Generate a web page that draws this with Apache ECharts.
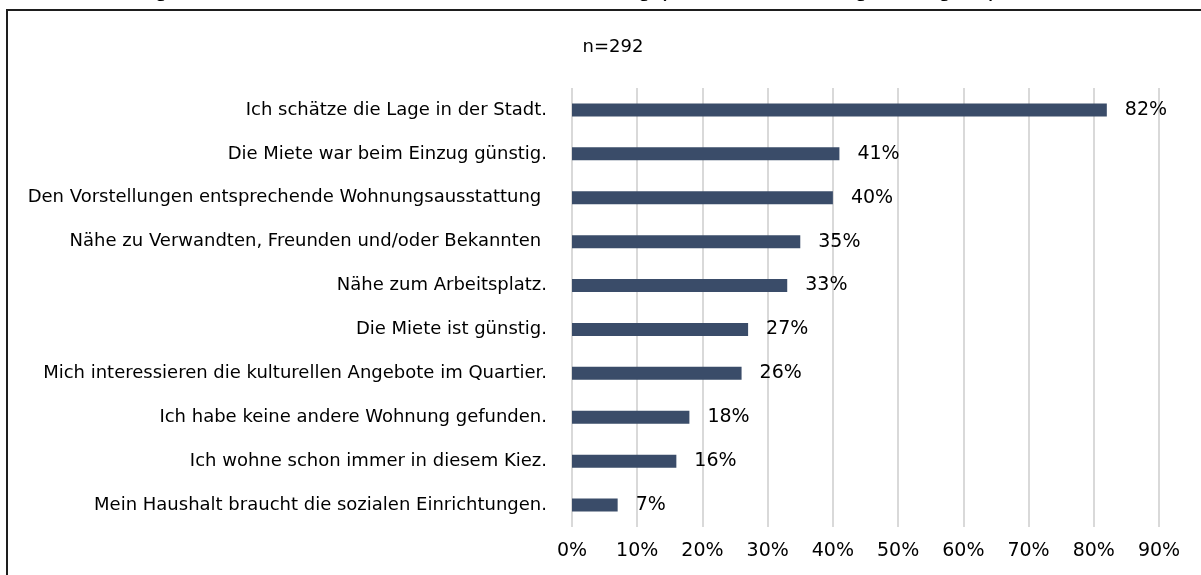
<!DOCTYPE html>
<html>
<head>
<meta charset="utf-8">
<script src="https://cdn.jsdelivr.net/npm/echarts@6/dist/echarts.min.js"></script>
<style>
  html, body { margin: 0; padding: 0; background: #ffffff; }
  #chart { width: 1201px; height: 575px; }
</style>
</head>
<body>
<div id="chart"></div>
<script>
// Reasons for staying, share of respondents in percent (multiple answers possible)
const reasons = [
  'Ich schätze die Lage in der Stadt.',
  'Die Miete war beim Einzug günstig.',
  'Den Vorstellungen entsprechende Wohnungsausstattung ',
  'Nähe zu Verwandten, Freunden und/oder Bekannten ',
  'Nähe zum Arbeitsplatz.',
  'Die Miete ist günstig.',
  'Mich interessieren die kulturellen Angebote im Quartier.',
  'Ich habe keine andere Wohnung gefunden.',
  'Ich wohne schon immer in diesem Kiez.',
  'Mein Haushalt braucht die sozialen Einrichtungen.'
];
const shares = [82, 41, 40, 35, 33, 27, 26, 18, 16, 7];
const tickLabels = ['0%', '10%', '20%', '30%', '40%', '50%', '60%', '70%', '80%', '90%'];
const sampleNote = 'n=292';
const captionText = 'Abbildung 6: Gründe für den Verbleib in der Wohnung (Mehrfachnennungen möglich)';

const labelFont = '"DejaVu Sans", "Open Sans", sans-serif';

const chart = echarts.init(document.getElementById('chart'), null, { renderer: 'canvas' });

chart.setOption({
  backgroundColor: '#ffffff',
  animation: false,
  title: {
    text: sampleNote,
    left: 608,
    top: 33,
    textAlign: 'center',
    textStyle: { fontFamily: labelFont, fontSize: 18, fontWeight: 'normal', color: '#000000' }
  },
  graphic: [
    {
      type: 'text',
      left: 57,
      top: -23,
      style: {
        text: captionText,
        font: '25px "Liberation Sans", Arial, sans-serif',
        fill: '#000000'
      }
    },
    {
      type: 'polyline',
      shape: { points: [[7, 575], [7, 10], [1201, 10]] },
      style: { stroke: '#1e1e1e', lineWidth: 2, fill: null }
    }
  ],
  grid: { left: 572, right: 42, top: 88, bottom: 48, containLabel: false },
  xAxis: {
    type: 'value',
    min: 0,
    max: 90,
    interval: 10,
    axisLine: { show: false },
    axisTick: { show: false },
    splitLine: { show: true, lineStyle: { color: '#d9d9d9', width: 2 } },
    axisLabel: {
      margin: 15,
      fontFamily: labelFont,
      fontSize: 19,
      color: '#000000',
      formatter: function (v) { return tickLabels[Math.round(v / 10)]; }
    }
  },
  yAxis: {
    type: 'category',
    data: reasons,
    inverse: true,
    axisLine: { show: false },
    axisTick: { show: false },
    splitLine: { show: false },
    axisLabel: {
      margin: 25,
      fontFamily: labelFont,
      fontSize: 18,
      color: '#000000'
    }
  },
  series: [{
    type: 'bar',
    data: shares,
    barWidth: 13,
    itemStyle: { color: '#3a4c69' },
    label: {
      show: true,
      position: 'right',
      distance: 18,
      fontFamily: labelFont,
      fontSize: 19,
      color: '#000000',
      formatter: function (p) { return p.value + '%'; }
    }
  }]
});
</script>
</body>
</html>
